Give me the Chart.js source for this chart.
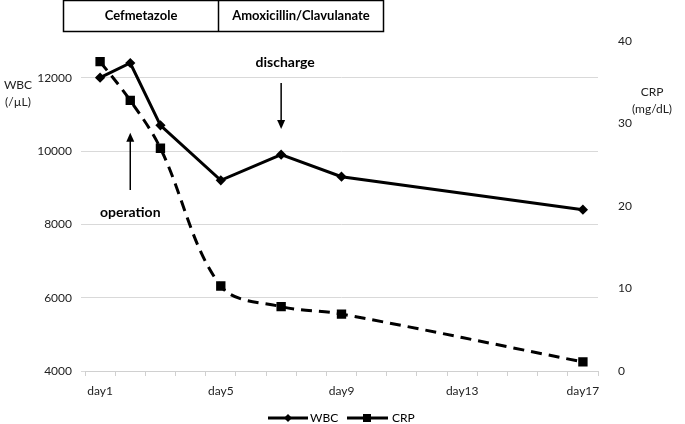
<!DOCTYPE html>
<html>
<head>
<meta charset="utf-8">
<script src="https://cdn.jsdelivr.net/npm/chart.js@4/dist/chart.umd.min.js"></script>
<style>
  body { margin: 0; background: #fff; }
  #wrap { width: 685px; height: 424px; }
</style>
</head>
<body>
<div id="wrap"><canvas id="myChart" width="685" height="424"></canvas></div>
<script>
const days = [];
for (let i = 1; i <= 17; i++) {
    days.push('day' + i);
}

const wbc = [12000, 12400, 10700, null, 9200, null, 9900, null, 9300, null, null, null, null, null, null, null, 8400];
const crp = [37.5, 32.8, 27.0, null, 10.3, null, 7.8, null, 6.9, null, null, null, null, null, null, null, 1.1];

const wbcTicks = [4000, 6000, 8000, 10000, 12000];
const drugs = ['Cefmetazole', 'Amoxicillin/Clavulanate'];

const fontName = 'Lato';
const borderWidth = 3;

const extras = {
    id: 'extras',
    afterDraw(chart) {
        const c = chart.ctx;
        const x = chart.scales.x;
        const yL = chart.scales.y;
        c.save();
        c.fillStyle = '#000';
        c.strokeStyle = '#000';

        // treatment table at the top
        c.lineWidth = 1.5;
        c.strokeRect(63.5, 0.5, 320, 31);
        c.beginPath();
        c.moveTo(218.5, 0.5);
        c.lineTo(218.5, 31.5);
        c.stroke();
        c.font = 'bold 13px ' + fontName;
        c.textAlign = 'center';
        c.textBaseline = 'middle';
        c.fillText(drugs[0], 141, 16);
        c.fillText(drugs[1], 301, 16);

        // axis titles
        c.font = '12px ' + fontName;
        c.fillStyle = '#222';
        c.fillText('WBC', 18, 85);
        c.fillText('(/\u00b5L)', 18, 102);
        c.fillText('CRP', 652, 92);
        c.fillText('(mg/dL)', 652, 109);
        c.fillStyle = '#000';

        // discharge / operation arrows
        c.lineWidth = 1.5;
        const xd = x.getPixelForValue(6);
        const xo = x.getPixelForValue(1);
        c.font = 'bold 14px ' + fontName;
        c.fillText('discharge', xd + 4, 62);
        c.fillText('operation', xo, 212);
        arrow(c, xd, 83, xd, yL.getPixelForValue(10600));
        arrow(c, xo, 190, xo, yL.getPixelForValue(10500));

        // legend
        const ly = 418;
        c.lineWidth = borderWidth;
        c.beginPath();
        c.moveTo(268, ly);
        c.lineTo(308, ly);
        c.stroke();
        c.beginPath();
        c.moveTo(288, ly - 4);
        c.lineTo(292, ly);
        c.lineTo(288, ly + 4);
        c.lineTo(284, ly);
        c.closePath();
        c.fill();
        c.beginPath();
        c.moveTo(347, ly);
        c.lineTo(388, ly);
        c.stroke();
        c.fillRect(363, ly - 4, 8, 8);
        c.font = '12px ' + fontName;
        c.textAlign = 'left';
        c.fillText('WBC', 310, ly);
        c.fillText('CRP', 392, ly);
        c.restore();
    }
};

function arrow(c, x1, y1, x2, y2) {
    const dir = y2 > y1 ? 1 : -1;
    c.beginPath();
    c.moveTo(x1, y1);
    c.lineTo(x2, y2 - dir * 6);
    c.stroke();
    c.beginPath();
    c.moveTo(x2, y2);
    c.lineTo(x2 - 4, y2 - dir * 9);
    c.lineTo(x2 + 4, y2 - dir * 9);
    c.closePath();
    c.fill();
}

var ctx = document.getElementById('myChart').getContext('2d');

const data = {
    labels: days,
    datasets: [{
            label: 'WBC',
            data: wbc,
            yAxisID: 'y',
            borderColor: '#000',
            backgroundColor: '#000',
            borderWidth: borderWidth,
            pointStyle: 'rectRot',
            pointRadius: 3,
            spanGaps: true,
            tension: 0
        },
        {
            label: 'CRP',
            data: crp,
            yAxisID: 'y2',
            borderColor: '#000',
            backgroundColor: '#000',
            borderWidth: borderWidth,
            borderDash: [11, 7],
            pointStyle: 'rect',
            pointRadius: 4.5,
            spanGaps: true,
            tension: 0.35
        }
    ]
};

const tickFont = { family: fontName, size: 12 };

const options = {
    responsive: false,
    animation: false,
    devicePixelRatio: 1,
    layout: { padding: { top: 41, left: 0, right: 0, bottom: 0 } },
    plugins: {
        legend: { display: false },
        tooltip: { enabled: false }
    },
    scales: {
        x: {
            offset: true,
            grid: { offset: true, drawOnChartArea: false, tickLength: 5, color: '#d0d0d0' },
            border: { color: '#d0d0d0' },
            ticks: {
                autoSkip: false,
                maxRotation: 0,
                padding: 8,
                color: '#222',
                font: tickFont,
                callback: function (v, i) { return i % 4 === 0 ? days[i] : ''; }
            },
            afterFit(s) { s.height = 53; }
        },
        y: {
            position: 'left',
            min: 4000,
            max: 13000,
            grid: { color: '#d9d9d9', tickLength: 4 },
            border: { display: false },
            afterBuildTicks(s) { s.ticks = wbcTicks.map(v => ({ value: v })); },
            ticks: { padding: 9, color: '#222', font: tickFont, callback: v => String(v) },
            afterFit(s) { s.width = 85; }
        },
        y2: {
            position: 'right',
            min: 0,
            max: 40,
            grid: { display: false },
            border: { display: false },
            ticks: { stepSize: 10, padding: 12, color: '#222', font: tickFont },
            afterFit(s) { s.width = 87; }
        }
    }
};

var myLineChart = new Chart(ctx, {
    type: 'line',
    data: data,
    options: options,
    plugins: [extras]
});
</script>
</body>
</html>
